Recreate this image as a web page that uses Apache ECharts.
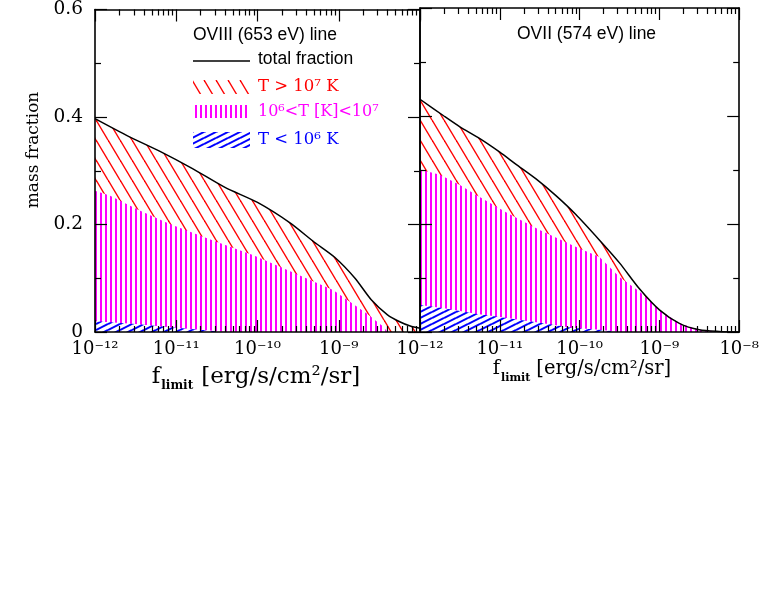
<!DOCTYPE html>
<html>
<head>
<meta charset="utf-8">
<title>mass fraction vs f_limit</title>
<script src="https://cdn.jsdelivr.net/npm/echarts@6/dist/echarts.min.js"></script>
<style>
  html, body { margin: 0; padding: 0; background: #fff; }
  #chart { width: 762px; height: 609px; }
</style>
</head>
<body>
<div id="chart"></div>
<script>
// x = log10(f_limit [erg/s/cm2/sr]), y = mass fraction

// OVIII (653 eV) line - left panel
var o8Total = [[-12, 0.397], [-11.6, 0.365], [-11.2, 0.336], [-10.8, 0.304], [-10.4, 0.269], [-10.0, 0.241],
  [-9.6, 0.203], [-9.3, 0.167], [-9.05, 0.139], [-8.8, 0.100], [-8.6, 0.060], [-8.4, 0.032],
  [-8.25, 0.019], [-8.12, 0.011], [-8.0, 0.007]];
var o8Warm = [[-12, 0.263], [-11.82, 0.254], [-11.45, 0.226], [-11.08, 0.201], [-10.54, 0.170], [-10.05, 0.143],
  [-9.64, 0.116], [-9.07, 0.078], [-8.66, 0.035], [-8.45, 0.010], [-8.4, 0]];
var o8Cool = [[-12, 0.020], [-11.5, 0.015], [-11.0, 0.008], [-10.6, 0.003], [-10.4, 0]];

// OVII (574 eV) line - right panel
var o7Total = [[-12, 0.431], [-11.7, 0.400], [-11.5, 0.380], [-11.25, 0.358], [-11.0, 0.333], [-10.8, 0.311],
  [-10.55, 0.284], [-10.3, 0.253], [-10.05, 0.218], [-9.75, 0.170], [-9.5, 0.128], [-9.25, 0.080],
  [-9.0, 0.041], [-8.75, 0.016], [-8.5, 0.004], [-8.25, 0.001], [-8.0, 0]];
var o7Warm = [[-12, 0.301], [-11.75, 0.291], [-11.5, 0.272], [-11.3, 0.254], [-10.9, 0.220], [-10.5, 0.189],
  [-10.05, 0.158], [-9.75, 0.139], [-9.5, 0.102], [-9.25, 0.075], [-9.0, 0.041], [-8.75, 0.016],
  [-8.5, 0.004], [-8.25, 0.001], [-8.0, 0]];
var o7Cool = [[-12, 0.050], [-11.7, 0.044], [-11.3, 0.034], [-11.0, 0.028], [-10.5, 0.017], [-10.1, 0.008],
  [-9.75, 0.004], [-9.5, 0]];

var decades = [-12, -11, -10, -9, -8];
var minorSteps = [2, 3, 4, 5, 6, 7, 8, 9];

var serif = '"DejaVu Serif", "Liberation Serif", serif';
var sans = '"Liberation Sans", Arial, sans-serif';

var supMap = {'-': '⁻', '0': '⁰', '1': '¹', '2': '²', '3': '³', '4': '⁴', '5': '⁵', '6': '⁶', '7': '⁷', '8': '⁸', '9': '⁹'};
function pow10(v) {
  return '10' + String(v).split('').map(function (c) { return supMap[c]; }).join('');
}

// minor tick positions at 2..9 x 10^n (log units)
var minorTicks = [];
decades.slice(0, -1).forEach(function (d) {
  minorSteps.forEach(function (k) { minorTicks.push(d + Math.log10(k)); });
});

// hatch patterns (white background so the layers hide each other)
function hatch(w, h, draw) {
  var c = document.createElement('canvas');
  c.width = w; c.height = h;
  var ctx = c.getContext('2d');
  ctx.fillStyle = '#fff';
  ctx.fillRect(0, 0, w, h);
  draw(ctx);
  return { image: c, repeat: 'repeat' };
}
var redHatch = hatch(12, 20, function (ctx) {
  ctx.strokeStyle = '#ff0000'; ctx.lineWidth = 1.4;
  for (var k = -1; k <= 1; k++) {
    ctx.beginPath(); ctx.moveTo(k * 12, 0); ctx.lineTo(k * 12 + 12, 20); ctx.stroke();
  }
});
var magHatch = hatch(5, 4, function (ctx) {
  ctx.fillStyle = '#ff00ff';
  ctx.fillRect(0, 0, 2, 4);
});
var blueHatch = hatch(12, 6, function (ctx) {
  ctx.strokeStyle = '#0000ff'; ctx.lineWidth = 2;
  [0, 6, 12].forEach(function (c) {
    ctx.beginPath(); ctx.moveTo(0, c); ctx.lineTo(12, c - 6); ctx.stroke();
  });
});

var frame = { show: true, lineStyle: { color: '#000', width: 1.6 } };

function xAxes(grid, showLabels, hideLast) {
  var major = {
    gridIndex: grid, type: 'value', min: -12, max: -8, interval: 1, z: 10,
    axisLine: frame, splitLine: { show: false },
    axisTick: { inside: true, length: 12, lineStyle: { color: '#000', width: 1.2 } }
  };
  var minor = {
    gridIndex: grid, type: 'value', min: -12, max: -8, z: 10,
    axisLine: { show: false }, splitLine: { show: false }, axisLabel: { show: false },
    axisTick: { inside: true, length: 6, customValues: minorTicks, lineStyle: { color: '#000', width: 1.2 } }
  };
  var bottom = Object.assign({}, major, {
    position: 'bottom',
    axisLabel: {
      show: showLabels, margin: 8, color: '#000', fontFamily: serif, fontSize: 18,
      showMaxLabel: !hideLast,
      formatter: function (v) { return pow10(v); }
    }
  });
  var top = Object.assign({}, major, { position: 'top', axisLabel: { show: false } });
  return [bottom, Object.assign({}, minor, { position: 'bottom' }),
          top, Object.assign({}, minor, { position: 'top' })];
}

function yAxis(grid, pos, showLabels) {
  return {
    gridIndex: grid, type: 'value', position: pos, min: 0, max: 0.6, interval: 0.2, z: 10,
    axisLine: frame, splitLine: { show: false },
    axisTick: { inside: true, length: 12, lineStyle: { color: '#000', width: 1.2 } },
    minorTick: { show: true, splitNumber: 2, length: 6, lineStyle: { color: '#000', width: 1.2 } },
    axisLabel: { show: showLabels, margin: 12, color: '#000', fontFamily: serif, fontSize: 18.5 }
  };
}

function panel(xi, yi, total, warm, cool) {
  var base = { type: 'line', xAxisIndex: xi, yAxisIndex: yi, showSymbol: false, silent: true, animation: false };
  return [
    Object.assign({}, base, { data: total, smooth: 0.25, lineStyle: { width: 0 }, areaStyle: { color: redHatch, opacity: 1 } }),
    Object.assign({}, base, { data: warm, lineStyle: { width: 0 }, areaStyle: { color: magHatch, opacity: 1 } }),
    Object.assign({}, base, { data: cool, lineStyle: { width: 0 }, areaStyle: { color: blueHatch, opacity: 1 } }),
    Object.assign({}, base, { data: total, smooth: 0.25, z: 5, lineStyle: { color: '#000', width: 1.5 } })
  ];
}

var titleRich = function (big, small, gap) {
  return {
    a: { fontFamily: serif, fontSize: big, lineHeight: 30, fill: '#000' },
    s: { fontFamily: serif, fontSize: small, fontWeight: 'bold', verticalAlign: 'bottom', lineHeight: 14,
         padding: [0, gap, 0, 1], fill: '#000' }
  };
};

var chart = echarts.init(document.getElementById('chart'));
var option = {
  backgroundColor: '#fff',
  animation: false,
  grid: [
    { left: 95, top: 8, width: 325, height: 324 },
    { left: 420, top: 8, width: 324, height: 324 }
  ],
  xAxis: xAxes(0, true, true).concat(xAxes(1, true, false)),
  yAxis: [yAxis(0, 'left', true), yAxis(0, 'right', false), yAxis(1, 'left', false), yAxis(1, 'right', false)],
  series: panel(0, 0, o8Total, o8Warm, o8Cool).concat(panel(4, 2, o7Total, o7Warm, o7Cool)),
  graphic: [
    // axis titles
    { type: 'text', x: 34, y: 150, rotation: Math.PI / 2,
      style: { text: 'mass fraction', font: '17px ' + serif, fill: '#000', align: 'center', verticalAlign: 'middle' } },
    { type: 'text', x: 256, y: 377,
      style: { text: '{a|f}{s|limit}{a|[erg/s/cm²/sr]}', rich: titleRich(23, 12, 8), align: 'center', verticalAlign: 'middle' } },
    { type: 'text', x: 582, y: 369,
      style: { text: '{a|f}{s|limit}{a|[erg/s/cm²/sr]}', rich: titleRich(19.5, 11, 6), align: 'center', verticalAlign: 'middle' } },
    // panel labels
    { type: 'text', x: 193, y: 35, z: 20,
      style: { text: 'OVIII (653 eV) line', font: '17.5px ' + sans, fill: '#000', verticalAlign: 'middle' } },
    { type: 'text', x: 517, y: 34, z: 20,
      style: { text: 'OVII (574 eV) line', font: '17.5px ' + sans, fill: '#000', verticalAlign: 'middle' } },
    // legend
    { type: 'line', z: 20, shape: { x1: 193, y1: 61, x2: 250, y2: 61 }, style: { stroke: '#000', lineWidth: 1.5 } },
    { type: 'text', x: 258, y: 59, z: 20,
      style: { text: 'total fraction', font: '17.5px ' + sans, fill: '#000', verticalAlign: 'middle' } },
    { type: 'rect', z: 20, shape: { x: 193, y: 80, width: 57, height: 14 }, style: { fill: redHatch } },
    { type: 'text', x: 258, y: 87, z: 20,
      style: { text: 'T > 10⁷ K', font: '16.5px ' + serif, fill: '#ff0000', verticalAlign: 'middle' } },
    { type: 'rect', z: 20, shape: { x: 193, y: 105, width: 54, height: 13 }, style: { fill: magHatch } },
    { type: 'text', x: 258, y: 112, z: 20,
      style: { text: '10⁶<T [K]<10⁷', font: '16px ' + serif, fill: '#ff00ff', verticalAlign: 'middle' } },
    { type: 'rect', z: 20, shape: { x: 193, y: 132, width: 57, height: 16 }, style: { fill: blueHatch } },
    { type: 'text', x: 258, y: 140, z: 20,
      style: { text: 'T < 10⁶ K', font: '16.5px ' + serif, fill: '#0000ff', verticalAlign: 'middle' } }
  ]
};
chart.setOption(option);
</script>
</body>
</html>
